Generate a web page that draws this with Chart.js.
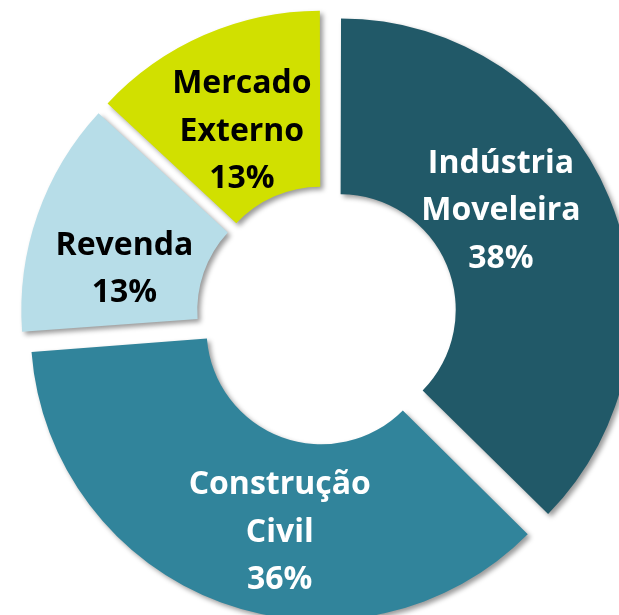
<!DOCTYPE html>
<html>
<head>
<meta charset="utf-8">
<script src="https://cdn.jsdelivr.net/npm/chart.js@4.4.1/dist/chart.umd.min.js"></script>
<style>
    html, body { margin: 0; padding: 0; background: #fff; overflow: hidden; }
    #wrap { width: 619px; height: 615px; }
</style>
</head>
<body>
<div id="wrap"><canvas id="mercado_chart" width="619" height="615"></canvas></div>
<script>
// categorias (quebradas em linhas como no gráfico original)
const categorias = [['Indústria', 'Moveleira'], ['Construção', 'Civil'], ['Revenda'], ['Mercado', 'Externo']]
const participacao = [37.4, 36.4, 13.1, 13.1]
// percentuais como aparecem nos rótulos
const rotulos_pct = ['38%', '36%', '13%', '13%']

const cores = ['#215968', '#31849b', '#b7dde8', '#d1e000']
const cores_texto = ['#ffffff', '#ffffff', '#000000', '#000000']
const ajuste_rotulo = [[-23, -24], [27, 14], [0, 22], [1, 10]]

let mercado_chart = null

const slice_labels = {
    id: 'slice_labels',
    beforeDatasetsDraw(chart) {
        const ctx = chart.ctx
        ctx.save()
        ctx.shadowColor = 'rgba(0, 0, 0, 0.4)'
        ctx.shadowBlur = 5
        ctx.shadowOffsetX = 3
        ctx.shadowOffsetY = 3
    },
    afterDatasetsDraw(chart) {
        const ctx = chart.ctx
        ctx.restore()

        const meta = chart.getDatasetMeta(0)
        ctx.save()
        ctx.font = 'bold 32px "Open Sans"'
        ctx.textAlign = 'center'
        ctx.textBaseline = 'alphabetic'
        meta.data.forEach((arc, i) => {
            const p = arc.getProps(['x', 'y', 'startAngle', 'endAngle', 'innerRadius', 'outerRadius'])
            const half = (p.startAngle + p.endAngle) / 2
            const r = arc.options.offset / 4 + (p.innerRadius + p.outerRadius) / 2
            const x = p.x + Math.cos(half) * r + ajuste_rotulo[i][0]
            const y = p.y + Math.sin(half) * r + ajuste_rotulo[i][1]
            const lines = [...categorias[i], rotulos_pct[i]]
            ctx.fillStyle = cores_texto[i]
            lines.forEach((line, j) => {
                ctx.fillText(line, x, y + (j - (lines.length - 1) / 2) * 47.5 + 11.5)
            })
        })
        ctx.restore()
    }
}

function load_mercado_chart()
{
    const ctx = document.getElementById('mercado_chart').getContext('2d')

    if(mercado_chart)
        mercado_chart.destroy()

    mercado_chart = new Chart(ctx,
        {
            type: 'doughnut',
            data: {
                labels: categorias.map(c => c.join(' ')),
                datasets: [{
                    data: participacao,
                    backgroundColor: cores,
                    borderWidth: 0,
                    offset: 60,
                    radius: 287,
                    cutout: '38.7%',
                    clip: false
                }]
            },
            options: {
                responsive: false,
                animation: false,
                events: [],
                layout: {
                    padding: { left: 34, top: 16, right: 0, bottom: 0 }
                },
                plugins: {
                    legend: { display: false },
                    tooltip: { enabled: false }
                }
            },
            plugins: [slice_labels]
        }
    )
}

function init()
{
    load_mercado_chart()
}

init()
</script>
</body>
</html>
